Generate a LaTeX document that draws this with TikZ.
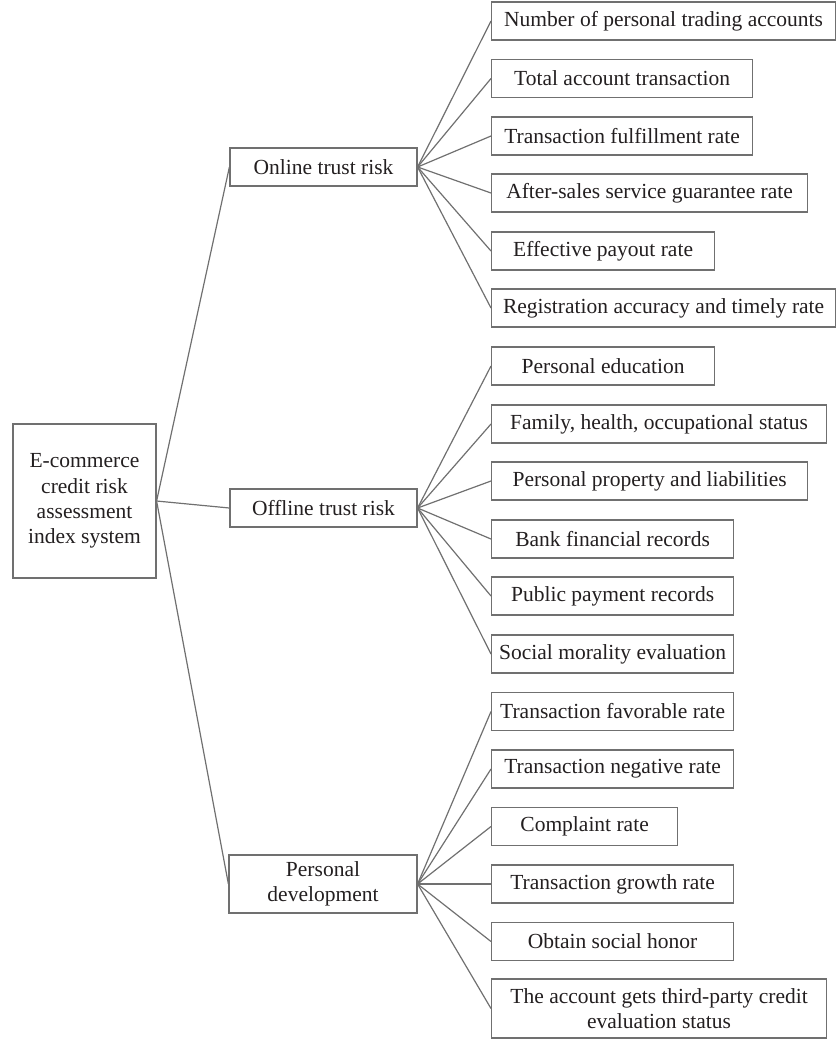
\documentclass[tikz,border=0pt]{standalone}
\usepackage{fontspec}
\setmainfont{Liberation Serif}
\definecolor{boxgray}{RGB}{112,112,112}
\definecolor{inkgray}{RGB}{35,31,32}

\begin{document}
\begin{tikzpicture}[x=.5pt,y=-.5pt]
\tikzstyle{every node}=[draw=boxgray, line width=.6pt, rectangle, inner sep=0pt, minimum height=19pt, text=inkgray, align=center, font=\fontsize{10.75}{12.6}\selectfont]
\tikzstyle{leaf}=[anchor=west]
\tikzstyle{link}=[draw=boxgray, line width=.6pt]
\useasboundingbox (0,0) rectangle (836,1041);
% root and the three risk groups
\draw (84.5,501) node (r) [minimum width=71.5pt, minimum height=77pt] {E-commerce\\credit risk\\assessment\\index system};
\draw (323.5,167) node (on) [minimum width=93.5pt] {Online trust risk};
\draw (323.5,508) node (off) [minimum width=93.5pt] {Offline trust risk};
\draw (323,884) node (pd) [minimum width=94pt, minimum height=29pt] {Personal\\development};
% online indexes
\draw (491,21) node (a1) [leaf, minimum width=172pt] {Number of personal trading accounts};
\draw (491,78.5) node (a2) [leaf, minimum width=130.5pt] {Total account transaction};
\draw (491,136) node (a3) [leaf, minimum width=130.5pt] {Transaction fulfillment rate};
\draw (491,193) node (a4) [leaf, minimum width=158pt] {After-sales service guarantee rate};
\draw (491,251) node (a5) [leaf, minimum width=111.5pt] {Effective payout rate};
\draw (491,308) node (a6) [leaf, minimum width=172pt] {Registration accuracy and timely rate};
% offline indexes
\draw (491,366) node (b1) [leaf, minimum width=111.5pt] {Personal education};
\draw (491,424) node (b2) [leaf, minimum width=167.5pt] {Family, health, occupational status};
\draw (491,481) node (b3) [leaf, minimum width=158pt] {Personal property and liabilities};
\draw (491,539) node (b4) [leaf, minimum width=121pt] {Bank financial records};
\draw (491,596) node (b5) [leaf, minimum width=121pt] {Public payment records};
\draw (491,654) node (b6) [leaf, minimum width=121pt] {Social morality evaluation};
% development indexes
\draw (491,711.5) node (c1) [leaf, minimum width=121pt] {Transaction favorable rate};
\draw (491,769) node (c2) [leaf, minimum width=121pt] {Transaction negative rate};
\draw (491,826.5) node (c3) [leaf, minimum width=93pt] {Complaint rate};
\draw (491,884) node (c4) [leaf, minimum width=121pt] {Transaction growth rate};
\draw (491,941.5) node (c5) [leaf, minimum width=121pt] {Obtain social honor};
\draw (491,1008.5) node (c6) [leaf, minimum width=167.5pt, minimum height=29.5pt] {The account gets third-party credit\\evaluation status};
% links
\draw[link] (r.east) -- (on.west);
\draw[link] (r.east) -- (off.west);
\draw[link] (r.east) -- (pd.west);
\draw[link] (on.east) -- (a1.west);
\draw[link] (on.east) -- (a2.west);
\draw[link] (on.east) -- (a3.west);
\draw[link] (on.east) -- (a4.west);
\draw[link] (on.east) -- (a5.west);
\draw[link] (on.east) -- (a6.west);
\draw[link] (off.east) -- (b1.west);
\draw[link] (off.east) -- (b2.west);
\draw[link] (off.east) -- (b3.west);
\draw[link] (off.east) -- (b4.west);
\draw[link] (off.east) -- (b5.west);
\draw[link] (off.east) -- (b6.west);
\draw[link] (pd.east) -- (c1.west);
\draw[link] (pd.east) -- (c2.west);
\draw[link] (pd.east) -- (c3.west);
\draw[link] (pd.east) -- (c4.west);
\draw[link] (pd.east) -- (c5.west);
\draw[link] (pd.east) -- (c6.west);
\end{tikzpicture}
\end{document}
